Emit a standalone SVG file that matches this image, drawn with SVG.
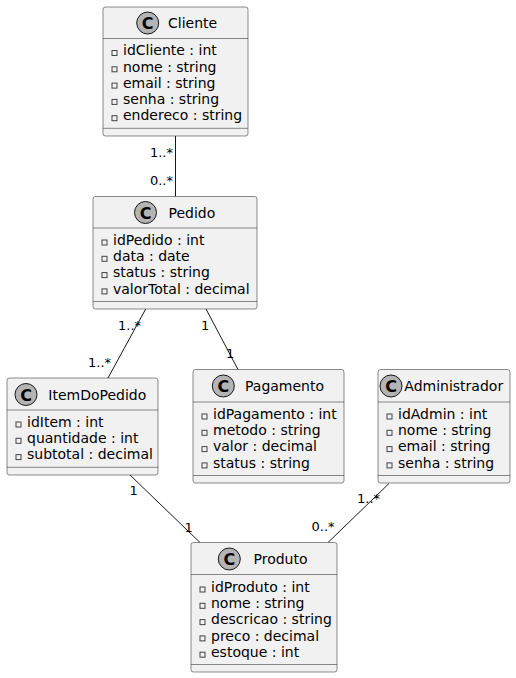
<svg xmlns="http://www.w3.org/2000/svg" width="516" height="678" viewBox="0 0 516 678">
<style>
.box{fill:#F1F1F1;stroke:#181818;stroke-width:0.5}
.sep{stroke:#181818;stroke-width:0.5}
.ic{fill:#B4B4B4;stroke:#181818;stroke-width:1}
.cl{font-family:"DejaVu Sans",sans-serif;font-size:16px;font-weight:bold;fill:#000;text-anchor:middle}
.nm{font-family:"DejaVu Sans",sans-serif;font-size:14px;fill:#000}
.at{font-family:"DejaVu Sans",sans-serif;font-size:14px;fill:#000}
.vis{fill:none;stroke:#444;stroke-width:1}
.edge{stroke:#181818;stroke-width:1;fill:none}
.lb{font-family:"DejaVu Sans",sans-serif;font-size:13px;fill:#000}
</style>
<rect width="516" height="678" fill="#FFFFFF"/>
<g id="connectors">
<line class="edge" x1="175.5" y1="136" x2="175.5" y2="196.5"/>
<text class="lb" x="173" y="157" text-anchor="end">1..*</text>
<text class="lb" x="173" y="185" text-anchor="end">0..*</text>
<line class="edge" x1="145.7" y1="309" x2="108" y2="378"/>
<text class="lb" x="118" y="330">1..*</text>
<text class="lb" x="88" y="367">1..*</text>
<line class="edge" x1="206" y1="309" x2="238" y2="369.5"/>
<text class="lb" x="201" y="330">1</text>
<text class="lb" x="226" y="358">1</text>
<line class="edge" x1="130" y1="475" x2="200" y2="542.5"/>
<text class="lb" x="129.5" y="495">1</text>
<text class="lb" x="184.5" y="531.5">1</text>
<line class="edge" x1="389" y1="483.5" x2="328" y2="542.5"/>
<text class="lb" x="357" y="503">1..*</text>
<text class="lb" x="311.5" y="531">0..*</text>
</g>
<g id="Cliente">
<rect class="box" x="103" y="7" width="145" height="129" rx="2.5"/>
<circle class="ic" cx="147.7" cy="23" r="11"/>
<text class="cl" x="147.7" y="29">C</text>
<text class="nm" x="168" y="28">Cliente</text>
<line class="sep" x1="103" y1="38.5" x2="248" y2="38.5"/>
<rect class="vis" x="112" y="50.5" width="5" height="5"/><text class="at" x="123" y="55.2">idCliente : int</text>
<rect class="vis" x="112" y="66.8" width="5" height="5"/><text class="at" x="123" y="71.5">nome : string</text>
<rect class="vis" x="112" y="83.1" width="5" height="5"/><text class="at" x="123" y="87.8">email : string</text>
<rect class="vis" x="112" y="99.4" width="5" height="5"/><text class="at" x="123" y="104.1">senha : string</text>
<rect class="vis" x="112" y="115.7" width="5" height="5"/><text class="at" x="123" y="120.4">endereco : string</text>
<line class="sep" x1="103" y1="128.3" x2="248" y2="128.3"/>
</g>
<g id="Pedido">
<rect class="box" x="93" y="196.5" width="164" height="112.5" rx="2.5"/>
<circle class="ic" cx="145.5" cy="212.5" r="11"/>
<text class="cl" x="145.5" y="218.5">C</text>
<text class="nm" x="168.5" y="217.5">Pedido</text>
<line class="sep" x1="93" y1="228" x2="257" y2="228"/>
<rect class="vis" x="102" y="240" width="5" height="5"/><text class="at" x="113" y="244.7">idPedido : int</text>
<rect class="vis" x="102" y="256.3" width="5" height="5"/><text class="at" x="113" y="261">data : date</text>
<rect class="vis" x="102" y="272.6" width="5" height="5"/><text class="at" x="113" y="277.3">status : string</text>
<rect class="vis" x="102" y="288.9" width="5" height="5"/><text class="at" x="113" y="293.6">valorTotal : decimal</text>
<line class="sep" x1="93" y1="301.5" x2="257" y2="301.5"/>
</g>
<g id="ItemDoPedido">
<rect class="box" x="7" y="378" width="151" height="97" rx="2.5"/>
<circle class="ic" cx="26" cy="394.5" r="11"/>
<text class="cl" x="26" y="400.5">C</text>
<text class="nm" x="48.3" y="399.5">ItemDoPedido</text>
<line class="sep" x1="7" y1="410" x2="158" y2="410"/>
<rect class="vis" x="16" y="422" width="5" height="5"/><text class="at" x="27" y="426.7">idItem : int</text>
<rect class="vis" x="16" y="438.3" width="5" height="5"/><text class="at" x="27" y="443">quantidade : int</text>
<rect class="vis" x="16" y="454.6" width="5" height="5"/><text class="at" x="27" y="459.3">subtotal : decimal</text>
<line class="sep" x1="7" y1="467.3" x2="158" y2="467.3"/>
</g>
<g id="Pagamento">
<rect class="box" x="193" y="369.5" width="151" height="113.5" rx="2.5"/>
<circle class="ic" cx="223.3" cy="386" r="11"/>
<text class="cl" x="223.3" y="392">C</text>
<text class="nm" x="245" y="391">Pagamento</text>
<line class="sep" x1="193" y1="402" x2="344" y2="402"/>
<rect class="vis" x="202" y="414" width="5" height="5"/><text class="at" x="213" y="418.7">idPagamento : int</text>
<rect class="vis" x="202" y="430.3" width="5" height="5"/><text class="at" x="213" y="435">metodo : string</text>
<rect class="vis" x="202" y="446.6" width="5" height="5"/><text class="at" x="213" y="451.3">valor : decimal</text>
<rect class="vis" x="202" y="462.9" width="5" height="5"/><text class="at" x="213" y="467.6">status : string</text>
<line class="sep" x1="193" y1="475.5" x2="344" y2="475.5"/>
</g>
<g id="Administrador">
<rect class="box" x="378" y="369.5" width="132" height="113.5" rx="2.5"/>
<circle class="ic" cx="391" cy="386" r="11"/>
<text class="cl" x="391" y="392">C</text>
<text class="nm" x="404.3" y="391">Administrador</text>
<line class="sep" x1="378" y1="402" x2="510" y2="402"/>
<rect class="vis" x="387" y="414" width="5" height="5"/><text class="at" x="398" y="418.7">idAdmin : int</text>
<rect class="vis" x="387" y="430.3" width="5" height="5"/><text class="at" x="398" y="435">nome : string</text>
<rect class="vis" x="387" y="446.6" width="5" height="5"/><text class="at" x="398" y="451.3">email : string</text>
<rect class="vis" x="387" y="462.9" width="5" height="5"/><text class="at" x="398" y="467.6">senha : string</text>
<line class="sep" x1="378" y1="475.5" x2="510" y2="475.5"/>
</g>
<g id="Produto">
<rect class="box" x="191" y="542.5" width="146" height="129.5" rx="2.5"/>
<circle class="ic" cx="229.3" cy="559" r="11"/>
<text class="cl" x="229.3" y="565">C</text>
<text class="nm" x="253.5" y="564">Produto</text>
<line class="sep" x1="191" y1="574.5" x2="337" y2="574.5"/>
<rect class="vis" x="200" y="587" width="5" height="5"/><text class="at" x="211" y="591.7">idProduto : int</text>
<rect class="vis" x="200" y="603.3" width="5" height="5"/><text class="at" x="211" y="608">nome : string</text>
<rect class="vis" x="200" y="619.6" width="5" height="5"/><text class="at" x="211" y="624.3">descricao : string</text>
<rect class="vis" x="200" y="635.9" width="5" height="5"/><text class="at" x="211" y="640.6">preco : decimal</text>
<rect class="vis" x="200" y="652.2" width="5" height="5"/><text class="at" x="211" y="656.9">estoque : int</text>
<line class="sep" x1="191" y1="664.5" x2="337" y2="664.5"/>
</g>
</svg>
